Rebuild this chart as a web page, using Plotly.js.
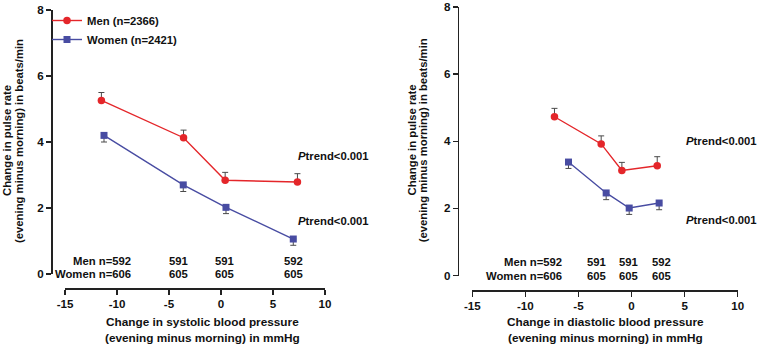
<!DOCTYPE html>
<html>
<head>
<meta charset="utf-8">
<script src="https://cdn.plot.ly/plotly-3.0.1.min.js"></script>
<style>
  html, body { margin: 0; padding: 0; background: #fff; }
  #chart { width: 758px; height: 348px; }
</style>
</head>
<body>
<div id="chart"></div>
<script>
// Mean change in pulse rate (with SE) by quartile of change in blood pressure
const sysMenX = [-11.5, -3.6, 0.4, 7.35];
const sysMenY = [5.26, 4.13, 2.84, 2.79];
const sysMenSE = [0.24, 0.23, 0.24, 0.25];
const sysWomenX = [-11.25, -3.63, 0.48, 6.95];
const sysWomenY = [4.2, 2.7, 2.02, 1.06];
const sysWomenSE = [0.2, 0.2, 0.19, 0.19];

const diaMenX = [-7.26, -2.86, -0.91, 2.42];
const diaMenY = [4.73, 3.92, 3.13, 3.27];
const diaMenSE = [0.25, 0.24, 0.24, 0.27];
const diaWomenX = [-5.94, -2.39, -0.22, 2.6];
const diaWomenY = [3.38, 2.46, 2.01, 2.16];
const diaWomenSE = [0.19, 0.2, 0.19, 0.2];

const menN = [592, 591, 591, 592];
const womenN = [606, 605, 605, 605];
const menTotal = 2366;
const womenTotal = 2421;
const pTrend = '<i>P</i>trend<0.001';

const xTickVals = [-15, -10, -5, 0, 5, 10];
const yTickVals = [0, 2, 4, 6, 8];

// Styling
const FONT = 'Liberation Sans, Arial, Helvetica, sans-serif';
const FS = 11.3;
const RED = 'rgb(228,38,42)';
const BLUE = 'rgb(72,76,162)';
const ERR = '#4a4a4a';
const W = 758, H = 348;
const px = v => v / W;
const py = v => (H - v) / H;

const zeros = a => a.map(() => 0);
const b = s => '<b>' + s + '</b>';

function series(x, y, se, up, color, symbol, name, xa, ya, legend) {
  return {
    type: 'scatter', mode: 'lines+markers',
    x: x, y: y, name: b(name), showlegend: legend,
    xaxis: xa, yaxis: ya,
    line: { color: color, width: 1.4 },
    marker: { color: color, symbol: symbol, size: symbol === 'square' ? 7 : 7.5 },
    error_y: {
      type: 'data', symmetric: false,
      array: up ? se : zeros(se),
      arrayminus: up ? zeros(se) : se,
      color: ERR, thickness: 1, width: 3
    },
    cliponaxis: false
  };
}

const traces = [
  series(sysMenX, sysMenY, sysMenSE, true, RED, 'circle', 'Men (n=' + menTotal + ')', 'x', 'y', true),
  series(sysWomenX, sysWomenY, sysWomenSE, false, BLUE, 'square', 'Women (n=' + womenTotal + ')', 'x', 'y', true),
  series(diaMenX, diaMenY, diaMenSE, true, RED, 'circle', 'Men (n=' + menTotal + ')', 'x2', 'y2', false),
  series(diaWomenX, diaWomenY, diaWomenSE, false, BLUE, 'square', 'Women (n=' + womenTotal + ')', 'x2', 'y2', false)
];

const tickFont = { family: FONT, size: 11.6, color: '#111', weight: 'bold' };

function baseAxis() {
  return {
    ticks: 'outside', ticklen: 5, tickwidth: 1.5, tickcolor: '#222',
    showline: true, linecolor: '#222', linewidth: 1.5,
    showgrid: false, zeroline: false, fixedrange: true,
    ticklabeloverflow: 'allow',
    tickfont: tickFont
  };
}
function xAxis(domain, pos) {
  return Object.assign(baseAxis(), {
    domain: domain, range: [-15, 10], anchor: 'free', position: pos,
    tickmode: 'array', tickvals: xTickVals, ticktext: xTickVals.map(v => b(String(v)))
  });
}
function yAxis(domain, pos) {
  return Object.assign(baseAxis(), {
    domain: domain, range: [0, 8], anchor: 'free', position: pos,
    tickmode: 'array', tickvals: yTickVals, ticktext: yTickVals.map(v => b(String(v)))
  });
}

const bold = { family: FONT, size: FS, color: '#111' };
const ann = [];
function txt(text, x, y, xref, yref, xanchor, extra) {
  ann.push(Object.assign({
    text: b(text), x: x, y: y, xref: xref, yref: yref,
    xanchor: xanchor || 'center', yanchor: 'middle',
    showarrow: false, font: bold
  }, extra || {}));
}

// Sample-size rows under each panel
function nRows(xref, yref, firstX, restX, menY) {
  txt('Men n=' + menN[0], firstX, menY, xref, yref, 'right');
  txt('Women n=' + womenN[0], firstX, 0, xref, yref, 'right');
  for (let i = 1; i < menN.length; i++) {
    txt(String(menN[i]), restX[i - 1], menY, xref, yref, 'center');
    txt(String(womenN[i]), restX[i - 1], 0, xref, yref, 'center');
  }
}
nRows('x', 'y', -8.45, [-4.1, 0.3, 7.0], 0.4);
nRows('x2', 'y2', -6.35, [-3.3, -0.3, 2.85], 0.41);

// Trend tests
txt(pTrend, px(296), py(156), 'paper', 'paper', 'left');
txt(pTrend, px(296), py(221), 'paper', 'paper', 'left');
txt(pTrend, px(684), py(141), 'paper', 'paper', 'left');
txt(pTrend, px(684), py(220), 'paper', 'paper', 'left');

// Axis titles
const rot = { textangle: -90 };
const big = { font: { family: FONT, size: 11.8, color: '#111' } };
txt('Change in pulse rate', px(7), py(141), 'paper', 'paper', 'center', rot);
txt('(evening minus morning) in beats/min', px(19), py(141), 'paper', 'paper', 'center', rot);
txt('Change in pulse rate', px(411.5), py(140), 'paper', 'paper', 'center', rot);
txt('(evening minus morning) in beats/min', px(423.3), py(140), 'paper', 'paper', 'center', rot);
txt('Change in systolic blood pressure', px(202), py(322), 'paper', 'paper', 'center', big);
txt('(evening minus morning) in mmHg', px(202), py(337.5), 'paper', 'paper', 'center', big);
txt('Change in diastolic blood pressure', px(605), py(322), 'paper', 'paper', 'center', big);
txt('(evening minus morning) in mmHg', px(605), py(337.5), 'paper', 'paper', 'center', big);

const layout = {
  width: W, height: H,
  margin: { l: 0, r: 0, t: 0, b: 0, pad: 0 },
  paper_bgcolor: '#fff', plot_bgcolor: 'rgba(0,0,0,0)',
  font: { family: FONT, size: FS, color: '#111' },
  xaxis: xAxis([px(65), px(325)], py(288)),
  yaxis: yAxis([py(274), py(10)], px(51)),
  xaxis2: xAxis([px(472.3), px(737.7)], py(290)),
  yaxis2: yAxis([py(275.5), py(7)], px(457.7)),
  showlegend: true,
  legend: {
    x: px(47), y: py(6), xanchor: 'left', yanchor: 'top',
    bgcolor: 'rgba(0,0,0,0)', borderwidth: 0,
    font: bold, itemclick: false, itemdoubleclick: false,
    tracegroupgap: 0
  },
  annotations: ann
};

Plotly.newPlot('chart', traces, layout, { staticPlot: true, displayModeBar: false });
</script>
</body>
</html>
